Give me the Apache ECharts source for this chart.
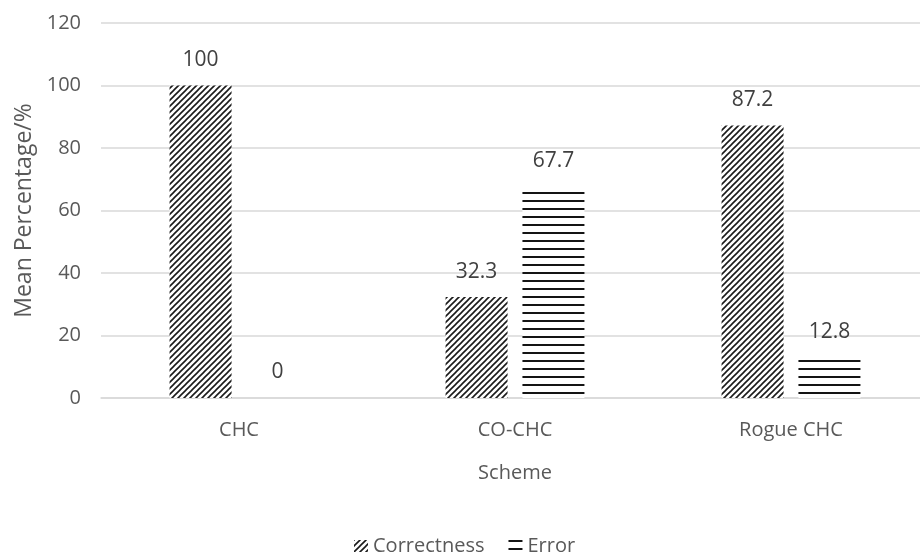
<!DOCTYPE html>
<html>
<head>
<meta charset="utf-8">
<script src="https://cdn.jsdelivr.net/npm/echarts@6/dist/echarts.min.js"></script>
<style>
  html, body { margin: 0; padding: 0; background: #ffffff; }
  #chart { width: 920px; height: 555px; }
</style>
</head>
<body>
<div id="chart"></div>
<script>
// Categories and values
const schemes = ['CHC', 'CO-CHC', 'Rogue CHC'];
const correctness = [100, 32.3, 87.2];
const error = [0, 67.7, 12.8];
const yTickValues = [0, 20, 40, 60, 80, 100, 120];

// Fill patterns: upward diagonal hatching and horizontal stripes
function diagonalPattern() {
  const c = document.createElement('canvas');
  c.width = 6; c.height = 6;
  const g = c.getContext('2d');
  g.fillStyle = '#ffffff';
  g.fillRect(0, 0, 6, 6);
  g.strokeStyle = '#1a1a1a';
  g.lineWidth = 1.6;
  g.beginPath();
  g.moveTo(-1, 7); g.lineTo(7, -1);
  g.moveTo(-1, 1); g.lineTo(1, -1);
  g.moveTo(5, 7); g.lineTo(7, 5);
  g.stroke();
  return c;
}
function horizontalPattern() {
  const c = document.createElement('canvas');
  c.width = 8; c.height = 8;
  const g = c.getContext('2d');
  g.fillStyle = '#ffffff';
  g.fillRect(0, 0, 8, 8);
  g.fillStyle = '#141414';
  g.fillRect(0, 0, 8, 2);
  return c;
}

const FONT = '"Open Sans", sans-serif';
const chart = echarts.init(document.getElementById('chart'), null, { renderer: 'canvas' });

chart.setOption({
  animation: false,
  backgroundColor: '#ffffff',
  textStyle: { fontFamily: FONT },
  grid: { left: 101, top: 23, width: 828, height: 375, outerBoundsMode: 'none', containLabel: false },
  legend: {
    left: 349,
    top: 531,
    itemWidth: 14,
    itemHeight: 12,
    itemGap: 24,
    icon: 'rect',
    textStyle: { color: '#595959', fontSize: 20, fontFamily: FONT },
    data: ['Correctness', 'Error']
  },
  xAxis: {
    type: 'category',
    data: schemes,
    name: 'Scheme',
    nameLocation: 'middle',
    nameGap: 65,
    nameTextStyle: { color: '#595959', fontSize: 20, fontFamily: FONT },
    axisLine: { lineStyle: { color: '#d9d9d9', width: 1.5 } },
    axisTick: { show: false },
    axisLabel: { color: '#595959', fontSize: 20, margin: 22, fontFamily: FONT }
  },
  yAxis: {
    type: 'value',
    min: yTickValues[0],
    max: yTickValues[yTickValues.length - 1],
    interval: yTickValues[1] - yTickValues[0],
    name: 'Mean Percentage/%',
    nameLocation: 'middle',
    nameGap: 65,
    nameTextStyle: { color: '#595959', fontSize: 23, fontFamily: FONT },
    axisLine: { show: false },
    axisTick: { show: false },
    axisLabel: { color: '#595959', fontSize: 20, margin: 20, fontFamily: FONT },
    splitLine: { lineStyle: { color: '#d9d9d9', width: 1.5 } }
  },
  series: [
    {
      name: 'Correctness',
      type: 'bar',
      data: correctness,
      barWidth: 62,
      barGap: '24%',
      itemStyle: { color: { image: diagonalPattern(), repeat: 'repeat' } },
      label: { show: true, position: 'top', distance: 15, color: '#404040', fontSize: 21, fontFamily: FONT }
    },
    {
      name: 'Error',
      type: 'bar',
      data: error,
      barWidth: 62,
      barGap: '24%',
      itemStyle: { color: { image: horizontalPattern(), repeat: 'repeat' } },
      label: { show: true, position: 'top', distance: 15, color: '#404040', fontSize: 21, fontFamily: FONT }
    }
  ]
});
</script>
</body>
</html>
